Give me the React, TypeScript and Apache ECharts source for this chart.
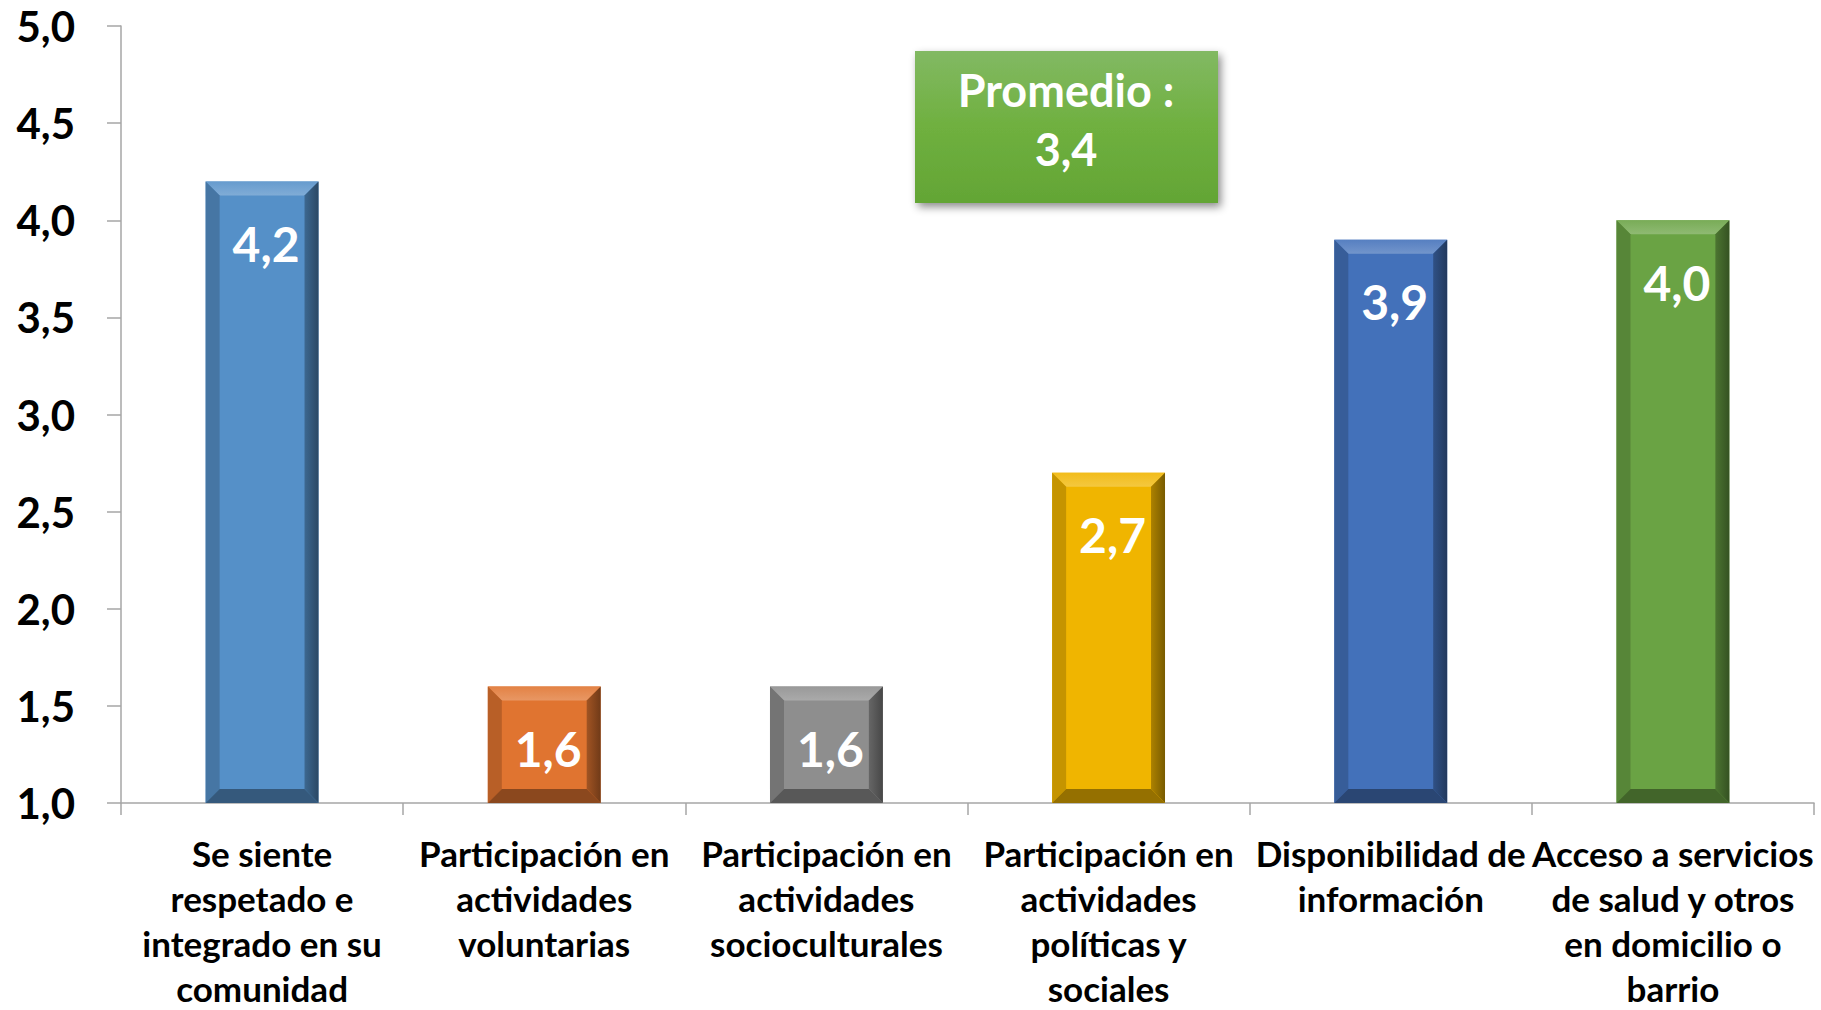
import React, { useEffect, useRef } from "react";
import * as echarts from "echarts";

const categories = [
  "Se siente\nrespetado e\nintegrado en su\ncomunidad",
  "Participación en\nactividades\nvoluntarias",
  "Participación en\nactividades\nsocioculturales",
  "Participación en\nactividades\npolíticas y\nsociales",
  "Disponibilidad de\ninformación",
  "Acceso a servicios\nde salud y otros\nen domicilio o\nbarrio",
];
const values = [4.2, 1.6, 1.6, 2.7, 3.9, 4.0];
const barColors = ["#5590C8", "#E07430", "#8E8E8E", "#F0B500", "#4371BA", "#6AA344"];
const average = 3.4;
const Y_MIN = 1;
const Y_MAX = 5;
const Y_STEP = 0.5;

const FONT = "Lato, 'Open Sans', sans-serif";

function fmt(v: number): string {
  return v.toFixed(1).replace(".", ",");
}

function shade(hex: string, f: number): string {
  const n = parseInt(hex.slice(1), 16);
  let r = (n >> 16) & 255, g = (n >> 8) & 255, b = n & 255;
  if (f >= 1) {
    const t = f - 1;
    r = r + (255 - r) * t; g = g + (255 - g) * t; b = b + (255 - b) * t;
  } else {
    r = r * f; g = g * f; b = b * f;
  }
  return `rgb(${Math.round(r)},${Math.round(g)},${Math.round(b)})`;
}

export default function App() {
  const ref = useRef<HTMLDivElement>(null);
  useEffect(() => {
    if (!ref.current) return;
    const chart = echarts.init(ref.current, null, { renderer: "svg" });
    const option: any = {
      animation: false,
      backgroundColor: "#ffffff",
      grid: { left: 121, right: 7, top: 26, bottom: 199, containLabel: false },
      xAxis: {
        type: "category",
        data: categories,
        axisLine: { show: true, lineStyle: { color: "#A6A6A6", width: 1.5 } },
        axisTick: { show: true, length: 12, lineStyle: { color: "#A6A6A6", width: 1.5 } },
        axisLabel: {
          interval: 0,
          margin: 27,
          color: "#000",
          fontFamily: FONT,
          fontWeight: "bold",
          fontSize: 35,
          lineHeight: 45,
          align: "center",
        },
      },
      yAxis: {
        type: "value",
        min: Y_MIN,
        max: Y_MAX,
        interval: Y_STEP,
        splitLine: { show: false },
        axisLine: { show: true, lineStyle: { color: "#A6A6A6", width: 1.5 } },
        axisTick: { show: true, length: 14, lineStyle: { color: "#A6A6A6", width: 1.5 } },
        axisLabel: {
          margin: 46,
          color: "#000",
          fontFamily: FONT,
          fontWeight: "bold",
          fontSize: 42,
          formatter: (v: number) => fmt(v),
        },
      },
      series: [
        {
          type: "custom",
          data: values.map((v, i) => [i, v]),
          encode: { x: 0, y: 1 },
          renderItem: (params: any, api: any) => {
            const idx = api.value(0);
            const val = api.value(1);
            const top = api.coord([idx, val]);
            const base = api.coord([idx, Y_MIN]);
            const bw = api.size([1, 0])[0] * 0.4;
            const x0 = top[0] - bw / 2;
            const x1 = top[0] + bw / 2;
            const y0 = top[1];
            const y1 = base[1];
            const b = 14;
            const c = barColors[idx];
            return {
              type: "group",
              children: [
                { type: "rect", shape: { x: x0, y: y0, width: bw, height: y1 - y0 }, style: { fill: c } },
                {
                  type: "polygon",
                  shape: { points: [[x0, y0], [x1, y0], [x1 - b, y0 + b], [x0 + b, y0 + b]] },
                  style: {
                    fill: new echarts.graphic.LinearGradient(0, 0, 0, 1, [
                      { offset: 0, color: shade(c, 1.1) },
                      { offset: 1, color: shade(c, 1.25) },
                    ]),
                  },
                },
                {
                  type: "polygon",
                  shape: { points: [[x0, y0], [x0 + b, y0 + b], [x0 + b, y1 - b], [x0, y1]] },
                  style: { fill: shade(c, 0.82) },
                },
                {
                  type: "polygon",
                  shape: { points: [[x1, y0], [x1 - b, y0 + b], [x1 - b, y1 - b], [x1, y1]] },
                  style: {
                    fill: new echarts.graphic.LinearGradient(0, 0, 1, 0, [
                      { offset: 0, color: shade(c, 0.72) },
                      { offset: 1, color: shade(c, 0.5) },
                    ]),
                  },
                },
                {
                  type: "polygon",
                  shape: { points: [[x0, y1], [x1, y1], [x1 - b, y1 - b], [x0 + b, y1 - b]] },
                  style: { fill: shade(c, 0.62) },
                },
                {
                  type: "text",
                  style: {
                    text: fmt(val),
                    x: top[0] + 4,
                    y: y0 + 62,
                    align: "center",
                    verticalAlign: "middle",
                    fill: "#ffffff",
                    fontFamily: FONT,
                    fontWeight: "bold",
                    fontSize: 48,
                  },
                },
              ],
            };
          },
        },
      ],
      graphic: [
        {
          type: "group",
          left: 915,
          top: 51,
          children: [
            {
              type: "rect",
              shape: { x: 0, y: 0, width: 303, height: 152 },
              style: {
                fill: new echarts.graphic.LinearGradient(0, 0, 0, 1, [
                  { offset: 0, color: "#82B963" },
                  { offset: 0.5, color: "#6FB03F" },
                  { offset: 1, color: "#63A535" },
                ]),
                shadowBlur: 8,
                shadowOffsetX: 3,
                shadowOffsetY: 4,
                shadowColor: "rgba(0,0,0,0.45)",
              },
            },
            {
              type: "text",
              style: {
                text: "Promedio :",
                x: 151,
                y: 39,
                align: "center",
                verticalAlign: "middle",
                fill: "#ffffff",
                fontFamily: FONT,
                fontWeight: "bold",
                fontSize: 45,
              },
            },
            {
              type: "text",
              style: {
                text: fmt(average),
                x: 151,
                y: 98,
                align: "center",
                verticalAlign: "middle",
                fill: "#ffffff",
                fontFamily: FONT,
                fontWeight: "bold",
                fontSize: 45,
              },
            },
          ],
        },
      ],
    };
    chart.setOption(option);
    return () => chart.dispose();
  }, []);
  return (
    <div
      ref={ref}
      style={{ position: "fixed", left: 0, top: 0, width: 1821, height: 1010, background: "#fff" }}
    />
  );
}
